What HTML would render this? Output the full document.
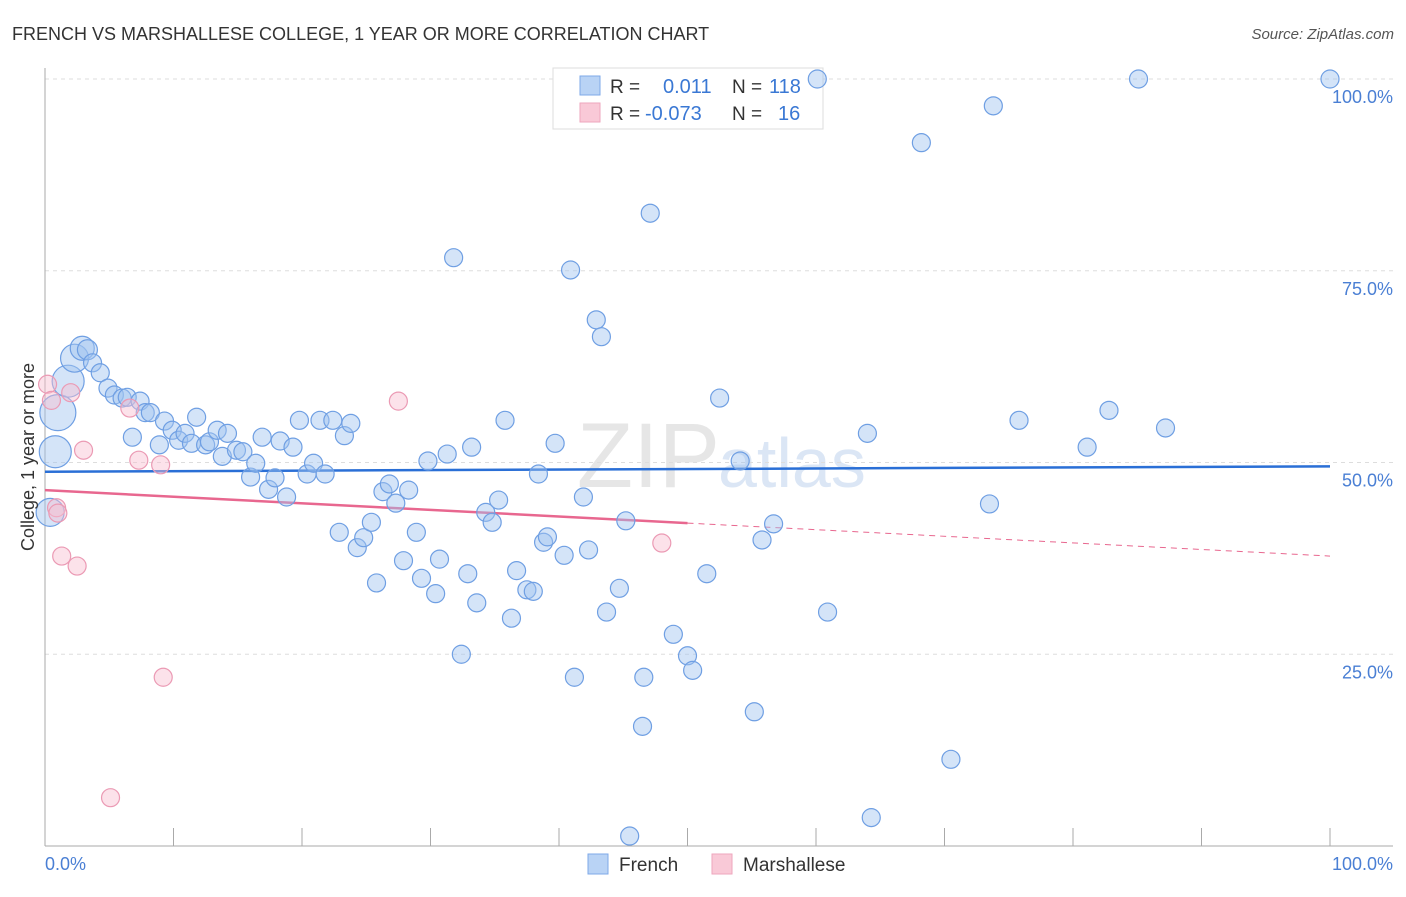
<!DOCTYPE html>
<html><head><meta charset="utf-8"><style>
body{margin:0;background:#fff;font-family:"Liberation Sans",sans-serif}
svg text{font-family:"Liberation Sans",sans-serif}
</style></head><body>
<svg id="chart" width="1406" height="892" viewBox="0 0 1406 892">
<text x="12" y="40" font-size="18" fill="#333">FRENCH VS MARSHALLESE COLLEGE, 1 YEAR OR MORE CORRELATION CHART</text>
<text x="1394" y="39" font-size="15" fill="#555" text-anchor="end" font-style="italic">Source: ZipAtlas.com</text>
<text x="720" y="487" font-size="92" fill="#e6e6e6" text-anchor="end" font-family="Liberation Serif">ZIP</text>
<text x="718" y="487" font-size="70" fill="#dbe6f5">atlas</text>
<g id="grid"></g>
<g id="axes"></g>
<g>
<rect x="553" y="68" width="270" height="61" fill="#fff" stroke="#ddd"/>
<rect x="580" y="76" width="20" height="19" fill="#b9d3f5" stroke="#7ea8e8"/>
<rect x="580" y="103" width="20" height="19" fill="#f9c9d7" stroke="#eea6bd"/>
<text x="610" y="93" font-size="19" fill="#333">R =</text>
<text x="663" y="93" font-size="20" fill="#3a78d4">0.011</text>
<text x="732" y="93" font-size="19" fill="#333">N =</text>
<text x="769" y="93" font-size="20" fill="#3a78d4">118</text>
<text x="610" y="120" font-size="19" fill="#333">R =</text>
<text x="645" y="120" font-size="20" fill="#3a78d4">-0.073</text>
<text x="732" y="120" font-size="19" fill="#333">N =</text>
<text x="778" y="120" font-size="20" fill="#3a78d4">16</text>
</g>
<g id="marks"></g>
<text transform="translate(34,457) rotate(-90)" font-size="18" fill="#333" text-anchor="middle">College, 1 year or more</text>
<text x="45" y="870" font-size="18" fill="#4a7fd4">0.0%</text>
<text x="1393" y="870" font-size="18" fill="#4a7fd4" text-anchor="end">100.0%</text>
<g>
<rect x="588" y="854" width="20" height="20" fill="#b9d3f5" stroke="#7ea8e8"/>
<text x="619" y="871" font-size="19" fill="#333">French</text>
<rect x="712" y="854" width="20" height="20" fill="#f9c9d7" stroke="#eea6bd"/>
<text x="743" y="871" font-size="19" fill="#333">Marshallese</text>
</g>
</svg>
<script>
const frenchX=[0.8,1.0,1.8,2.3,2.9,3.3,3.7,4.3,4.9,5.4,6.0,6.4,7.4,7.8,8.2,9.3,9.9,10.4,10.9,11.4,11.8,12.5,12.8,13.4,13.8,14.2,14.9,15.4,16.0,16.4,16.9,17.4,17.9,18.3,18.8,19.3,19.8,20.4,20.9,21.4,21.8,22.4,22.9,23.3,23.8,24.3,24.8,25.4,25.8,26.3,26.8,27.3,27.9,28.3,28.9,29.3,29.8,30.4,30.7,31.3,31.8,32.4,32.9,33.2,33.6,34.3,34.8,35.3,35.8,36.3,36.7,37.5,38.0,38.4,38.8,39.1,39.7,40.4,40.9,41.2,41.9,42.3,42.9,43.3,43.7,44.7,45.2,45.5,46.5,46.6,47.1,48.9,50.0,50.4,51.5,52.5,54.1,55.2,55.8,56.7,60.1,60.9,64.0,64.3,68.2,70.5,73.5,73.8,75.8,81.1,82.8,85.1,87.2,100,0.4,6.8,8.9];
const frenchY=[51.4,56.5,60.6,63.6,64.9,64.7,63.0,61.7,59.7,58.8,58.4,58.5,58.0,56.5,56.5,55.4,54.2,52.9,53.8,52.5,55.9,52.3,52.7,54.2,50.8,53.8,51.6,51.4,48.1,49.9,53.3,46.5,48.0,52.8,45.5,52.0,55.5,48.5,49.9,55.5,48.5,55.5,40.9,53.5,55.1,38.9,40.2,42.2,34.3,46.2,47.2,44.7,37.2,46.4,40.9,34.9,50.2,32.9,37.4,51.1,76.7,25.0,35.5,52.0,31.7,43.5,42.2,45.1,55.5,29.7,35.9,33.4,33.2,48.5,39.6,40.3,52.5,37.9,75.1,22.0,45.5,38.6,68.6,66.4,30.5,33.6,42.4,1.3,15.6,22.0,82.5,27.6,24.8,22.9,35.5,58.4,50.2,17.5,39.9,42.0,100,30.5,53.8,3.7,91.7,11.3,44.6,96.5,55.5,52.0,56.8,100,54.5,100,43.5,53.3,52.3];
const frenchSize=[16,18,16,14,12,10];
const marshX=[0.2,0.5,0.9,1.0,1.3,2.0,2.5,3.0,5.1,6.6,7.3,9.0,9.2,27.5,48.0];
const marshY=[60.2,58.1,44.1,43.4,37.8,59.1,36.5,51.6,6.3,57.1,50.3,49.7,22.0,58.0,39.5];
const yTicks=[25,50,75,100];
const trendFrench=[48.8,49.5];
const trendMarsh=[46.4,37.8];
const NS='http://www.w3.org/2000/svg';
const X0=45,X1=1330,Y0=846,Y100=79;
const sx=v=>X0+(X1-X0)*v/100;
const sy=v=>Y0-(Y0-Y100)*v/100;
function mk(tag,attrs,parent){const e=document.createElementNS(NS,tag);for(const k in attrs)e.setAttribute(k,attrs[k]);document.getElementById(parent).appendChild(e);return e;}
yTicks.forEach(t=>{
  const l=mk('line',{x1:X0,x2:1393,y1:sy(t),y2:sy(t),stroke:'#ddd','stroke-dasharray':'4,4'},'grid');
  
  
  const tx=mk('text',{x:1393,y:sy(t)+24,'font-size':18,fill:'#4a7fd4','text-anchor':'end'},'grid');
  tx.textContent=t.toFixed(1)+'%';
  
  
});
let ax=mk('line',{x1:X0,x2:X0,y1:68,y2:Y0,stroke:'#aaa'},'axes');


ax=mk('line',{x1:X0,x2:1393,y1:Y0,y2:Y0,stroke:'#aaa'},'axes');


for(let i=0;i<=10;i++){
  const t=mk('line',{x1:sx(i*10),x2:sx(i*10),y1:828,y2:Y0,stroke:'#aaa'},'axes');
  
  
}
let tl=mk('line',{x1:sx(0),x2:sx(100),y1:sy(trendFrench[0]),y2:sy(trendFrench[1]),stroke:'#2a6fd6','stroke-width':2.5},'marks');


const mAt=x=>trendMarsh[0]+(trendMarsh[1]-trendMarsh[0])*x/100;
tl=mk('line',{x1:sx(0),x2:sx(50),y1:sy(mAt(0)),y2:sy(mAt(50)),stroke:'#e8678f','stroke-width':2.5},'marks');


tl=mk('line',{x1:sx(50),x2:sx(100),y1:sy(mAt(50)),y2:sy(mAt(100)),stroke:'#e8678f','stroke-width':1,'stroke-dasharray':'6,5'},'marks');


frenchX.forEach((x,i)=>{
  const r=i<frenchSize.length?frenchSize[i]:(i===frenchX.length-3?14:9);
  const c=mk('circle',{cx:sx(x),cy:sy(frenchY[i]),r:r,fill:'rgba(160,195,240,0.45)',stroke:'#6f9fe3','stroke-width':1.2},'marks');
  
  
});
marshX.forEach((x,i)=>{
  const c=mk('circle',{cx:sx(x),cy:sy(marshY[i]),r:9,fill:'rgba(248,190,208,0.45)',stroke:'#eb9ab4','stroke-width':1.2},'marks');
  
  
});
</script>
</body></html>
